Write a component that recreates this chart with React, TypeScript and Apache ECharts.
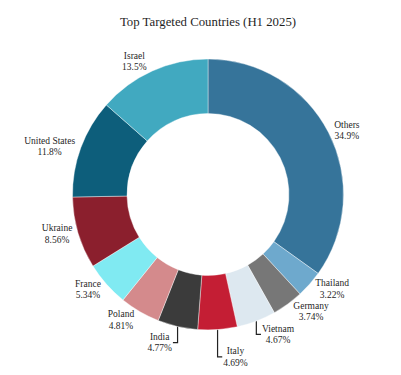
import React, { useEffect, useRef } from "react";
import * as echarts from "echarts";

const titleText = "Top Targeted Countries (H1 2025)";
const categories = ["Others", "Thailand", "Germany", "Vietnam", "Italy", "India", "Poland", "France", "Ukraine", "United States", "Israel"];
const shares = [34.9, 3.22, 3.74, 4.67, 4.69, 4.77, 4.81, 5.34, 8.56, 11.8, 13.5];
const sliceColors = ["#36749a", "#6ea9cd", "#777777", "#dde8f0", "#c41e34", "#3b3b3b", "#d48a8c", "#80eaf2", "#8b1f2d", "#0d5e7b", "#41a9c0"];

const W = 401;
const H = 375;
const CX = 208;
const CY = 194.5;
const R_OUT = 135.5;
const R_IN = 81;
const FONT = '"Liberation Serif", "Times New Roman", serif';
const LABEL_SIZE = 9.5;
const LABEL_LH = 11.3;
const LABEL_H = 2 * LABEL_LH;
const TEXT_COLOR = "#1f1f1f";

type Pt = { i: number; px: number; py: number; yMid: number; extraY: number };

function computeLabelLayout(): Pt[] {
  const total = shares.reduce((a, b) => a + b, 0);
  let cum = 0;
  const pts: Pt[] = shares.map((v, i) => {
    const mid = ((cum + v / 2) / total) * 2 * Math.PI;
    cum += v;
    const px = R_OUT * Math.sin(mid);
    const py = -R_OUT * Math.cos(mid);
    const dy = (LABEL_H / 2) * (py < 0 ? -1 : 1);
    const yoff = dy / (1 + (px * px) / (py * py));
    return { i, px, py, yMid: CY + py + yoff, extraY: 0 };
  });
  const h2 = LABEL_H / 2;
  const quads: Pt[][][] = [[[], []], [[], []]];
  pts.forEach((p) => quads[p.py >= 0 ? 1 : 0][p.px >= 0 ? 1 : 0].push(p));
  for (let yHalf = 0; yHalf < 2; yHalf++) {
    for (let xHalf = 0; xHalf < 2; xHalf++) {
      const q = quads[yHalf][xHalf];
      q.sort((a, b) => (yHalf ? a.py - b.py : b.py - a.py));
      const opp = quads[1 - yHalf][xHalf];
      const oppFirst = yHalf && opp.length ? opp[0] : null;
      for (let k = 0; k < q.length; k++) {
        const p = q[k];
        const prev = k ? q[k - 1] : oppFirst;
        if (!prev) continue;
        const prevOuter = prev.extraY + (yHalf ? prev.yMid + h2 : prev.yMid - h2);
        const thisInner = yHalf ? p.yMid - h2 : p.yMid + h2;
        const ne = prevOuter - thisInner;
        if (ne * (yHalf ? 1 : -1) > 0) p.extraY = ne;
      }
    }
  }
  return pts;
}

export default function App() {
  const ref = useRef<HTMLDivElement>(null);
  useEffect(() => {
    if (!ref.current) return;
    const chart = echarts.init(ref.current, undefined, { renderer: "svg" });
    const layout = computeLabelLayout();
    const data = categories.map((name, i) => ({
      name,
      value: shares[i],
      itemStyle: { color: sliceColors[i] },
      labelLine: { show: Math.abs(layout[i].extraY) > 1 },
    }));
    chart.setOption({
      animation: false,
      backgroundColor: "#ffffff",
      graphic: [
        {
          type: "text",
          x: CX,
          y: 22,
          style: {
            text: titleText,
            fill: TEXT_COLOR,
            font: `12.8px ${FONT}`,
            textAlign: "center",
            textVerticalAlign: "middle",
          },
        },
      ],
      series: [
        {
          type: "pie",
          center: [CX, CY],
          radius: [R_IN, R_OUT],
          startAngle: 90,
          clockwise: true,
          avoidLabelOverlap: false,
          emphasis: { disabled: true },
          itemStyle: { borderColor: "#ffffff", borderWidth: 0.4 },
          label: {
            show: true,
            position: "outside",
            formatter: (p: any) => `${p.name}\n${p.value}%`,
            fontFamily: FONT,
            fontSize: LABEL_SIZE,
            lineHeight: LABEL_LH,
            color: TEXT_COLOR,
            align: "center",
          },
          labelLine: {
            show: false,
            length: 5,
            length2: 5,
            smooth: false,
            lineStyle: { color: "#222222", width: 1.2 },
          },
          labelLayout: (params: any) => {
            const p = layout[params.dataIndex];
            const w = params.labelRect.width;
            const sx = p.px >= 0 ? 1 : -1;
            const x = CX + p.px + sx * (w / 2 + LABEL_H / 4);
            const y = p.yMid + p.extraY;
            const res: any = { x, y, align: "center", verticalAlign: "middle" };
            if (Math.abs(p.extraY) > 1) {
              res.labelLinePoints = [
                [CX + p.px, CY + p.py],
                [CX + p.px, y],
                [x - sx * (w / 2 + 1), y],
              ];
            }
            return res;
          },
          data,
        },
      ],
    });
    return () => chart.dispose();
  }, []);
  return <div ref={ref} style={{ position: "absolute", left: 0, top: 0, width: W, height: H }} />;
}
